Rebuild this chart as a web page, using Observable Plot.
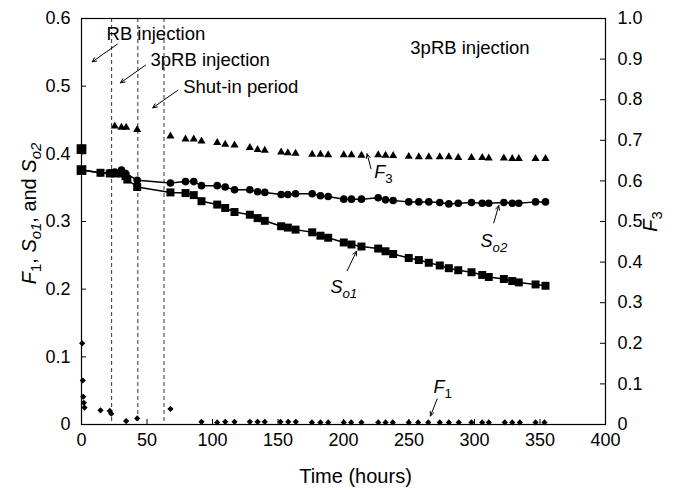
<!DOCTYPE html>
<html><head><meta charset="utf-8">
<script src="https://cdn.jsdelivr.net/npm/d3@7"></script>
<script src="https://cdn.jsdelivr.net/npm/@observablehq/plot@0.6"></script>
<style>body{margin:0;background:#fff}svg{display:block}</style>
</head><body><div id="chart"></div>
<script>
// ---- data ----
const xTicks = [0, 50, 100, 150, 200, 250, 300, 350, 400];
const yTicks = [0, 0.1, 0.2, 0.3, 0.4, 0.5, 0.6];
const f3Ticks = [0, 0.1, 0.2, 0.3, 0.4, 0.5, 0.6, 0.7, 0.8, 0.9, 1.0];
const F3_TO_LEFT = 0.6; // right axis (0..1) shares the frame with left axis (0..0.6)

const mainTime = [67.9,79.4,85.7,91.6,103.6,109.7,116.8,128.5,134.4,139.9,152.4,157.5,163.4,176.1,182.4,188.3,200.2,206.1,213.7,226.5,232.1,237.9,249.8,257.5,265.1,273.5,280.4,287.6,297.7,305.9,310.9,322.4,328.8,333.8,346.6,354.2];

const so1EarlyTime = [0, 14.5, 21.6, 25.4, 30.5, 33.6, 35.0, 42.5];
const so1EarlyValue = [0.376, 0.372, 0.371, 0.371, 0.371, 0.367, 0.362, 0.351];
const so1Value = [0.343,0.342,0.339,0.330,0.325,0.320,0.314,0.310,0.305,0.301,0.293,0.291,0.288,0.284,0.279,0.276,0.269,0.266,0.263,0.260,0.256,0.252,0.246,0.243,0.239,0.235,0.231,0.228,0.225,0.221,0.218,0.215,0.212,0.210,0.207,0.205];

const so2EarlyTime = [0, 14.5, 21.6, 25.4, 30.5, 33.6, 42.5];
const so2EarlyValue = [0.376, 0.372, 0.372, 0.373, 0.376, 0.371, 0.361];
const so2Value = [0.357,0.359,0.359,0.353,0.353,0.351,0.347,0.347,0.344,0.343,0.340,0.340,0.341,0.341,0.338,0.337,0.333,0.333,0.333,0.335,0.332,0.331,0.329,0.329,0.329,0.328,0.326,0.327,0.328,0.327,0.327,0.328,0.327,0.327,0.329,0.329];

const initialTime = [0];
const initialValue = [0.407];

const f3EarlyTime = [25.4, 30.5, 34.1, 42.5];
const f3EarlyValue = [0.735, 0.732, 0.732, 0.726];
const f3Value = [0.710,0.703,0.703,0.698,0.694,0.690,0.688,0.682,0.677,0.675,0.671,0.669,0.668,0.665,0.665,0.664,0.664,0.664,0.663,0.664,0.663,0.662,0.660,0.659,0.659,0.659,0.659,0.657,0.657,0.657,0.656,0.656,0.655,0.655,0.655,0.655];

const f1Time = [0.5,1.0,1.3,1.8,2.3,14.5,21.6,22.7,34.1,42.5,67.9,91.6,103.6,109.7,116.8,128.5,134.4,139.9,151.9,157.8,163.6,175.9,182.4,188.3,200.2,205.9,213.7,226.5,232.1,237.6,249.8,257.0,264.7,273.5,280.4,288.0,297.7,305.9,310.9,323.1,328.8,334.6,346.6,353.4];
const f1Value = [0.120,0.065,0.041,0.032,0.025,0.021,0.020,0.016,0.005,0.009,0.023,0.004,0.003,0.004,0.004,0.004,0.004,0.004,0.004,0.004,0.004,0.003,0.003,0.003,0.003,0.003,0.003,0.003,0.003,0.003,0.003,0.003,0.003,0.003,0.003,0.003,0.003,0.003,0.003,0.003,0.003,0.003,0.003,0.003];

const eventTime = [23, 43, 63];

const noteText = ["RB injection", "3pRB injection", "Shut-in period", "3pRB injection"];
const noteX = [19.1, 52.7, 77.6, 251];
const noteY = [0.577, 0.539, 0.499, 0.557];

const arrowX1 = [27.3, 48.9, 73.5, 221.0, 202.8, 314.7, 271.5];
const arrowY1 = [0.562, 0.531, 0.494, 0.378, 0.227, 0.298, 0.0377];
const arrowX2 = [8.2, 29.8, 54.4, 218.0, 209.9, 318.5, 266.4];
const arrowY2 = [0.536, 0.505, 0.468, 0.400, 0.256, 0.3235, 0.0126];

const seriesLabel = ["F3", "So1", "So2", "F1"];
const seriesLabelX = [223.5, 190.0, 304.6, 268.7];
const seriesLabelY = [0.373, 0.203, 0.271, 0.055];

// tick lengths expressed in data units (about 5 px)
const TICK_X = 3.8, TICK_Y = 0.0075;

// ---- tables ----
const so1 = so1EarlyTime.map((t, i) => ({t, v: so1EarlyValue[i]}))
  .concat(mainTime.map((t, i) => ({t, v: so1Value[i]})));
const so2 = so2EarlyTime.map((t, i) => ({t, v: so2EarlyValue[i]}))
  .concat(mainTime.map((t, i) => ({t, v: so2Value[i]})));
const init = initialTime.map((t, i) => ({t, v: initialValue[i]}));
const f3 = f3EarlyTime.map((t, i) => ({t, v: f3EarlyValue[i]}))
  .concat(mainTime.map((t, i) => ({t, v: f3Value[i]})));
const f1 = f1Time.map((t, i) => ({t, v: f1Value[i]}));
const notes = noteText.map((s, i) => ({s, x: noteX[i], y: noteY[i]}));
const arrows = arrowX1.map((x1, i) => ({x1, y1: arrowY1[i], x2: arrowX2[i], y2: arrowY2[i]}));
const labels = seriesLabel.map((s, i) => ({s, x: seriesLabelX[i], y: seriesLabelY[i]}));
const rightTicks = f3Ticks.map(d => d * F3_TO_LEFT);

const fmt = d => (Math.abs(d) < 1e-9 ? "0" : d.toFixed(1));
const font = "'Liberation Sans', Arial, Helvetica, sans-serif";

const plot = Plot.plot({
  width: 673, height: 491,
  marginLeft: 81, marginRight: 68, marginTop: 18, marginBottom: 67,
  style: {fontFamily: font, fontSize: "18px", background: "#fff", color: "#000", overflow: "visible"},
  x: {domain: [0, 400], axis: null},
  y: {domain: [0, 0.6], axis: null},
  marks: [
    Plot.ruleX(eventTime, {x: d => d, stroke: "#333", strokeWidth: 1, strokeDasharray: "4,3"}),
    Plot.line(so1, {x: "t", y: "v", stroke: "black", strokeWidth: 1.5}),
    Plot.line(so2, {x: "t", y: "v", stroke: "black", strokeWidth: 1.5}),
    Plot.dot(so2.slice(1), {x: "t", y: "v", r: 3.8, fill: "black", symbol: "circle"}),
    Plot.dot(so1.slice(1), {x: "t", y: "v", r: 4.5, fill: "black", symbol: "square"}),
    Plot.dot(so1.slice(0, 1).concat(init), {x: "t", y: "v", r: 5.5, fill: "black", symbol: "square"}),
    Plot.dot(f3, {x: "t", y: d => d.v * F3_TO_LEFT, r: 3.0, fill: "black", symbol: "triangle"}),
    Plot.dot(f1, {x: "t", y: "v", r: 2.8, fill: "black", symbol: "diamond2"}),
    Plot.arrow(arrows, {x1: "x1", y1: "y1", x2: "x2", y2: "y2", stroke: "black", strokeWidth: 1, headLength: 7, headAngle: 50}),
    Plot.text(notes, {x: "x", y: "y", text: "s", textAnchor: "start", lineAnchor: "middle", fontSize: 18.5}),
    Plot.text(labels, {x: "x", y: "y", text: "s", textAnchor: "start", lineAnchor: "middle", fontSize: 18}),
    // axes (inward ticks)
    Plot.ruleX(xTicks.slice(1, -1), {x: d => d, y1: 0, y2: TICK_Y, stroke: "black"}),
    Plot.ruleY(yTicks.slice(1, -1), {y: d => d, x1: 0, x2: TICK_X, stroke: "black"}),
    Plot.ruleY(rightTicks.slice(1, -1), {y: d => d, x1: 400 - TICK_X, x2: 400, stroke: "black"}),
    Plot.text(xTicks, {x: d => d, frameAnchor: "bottom", text: d => String(d), dy: 9, lineAnchor: "top", fontSize: 18}),
    Plot.text(yTicks, {y: d => d, frameAnchor: "left", text: fmt, dx: -11, textAnchor: "end", lineAnchor: "middle", fontSize: 18}),
    Plot.text(rightTicks, {y: d => d, frameAnchor: "right", text: d => fmt(d / F3_TO_LEFT), dx: 12, textAnchor: "start", lineAnchor: "middle", fontSize: 18}),
    Plot.frame({stroke: "black", strokeWidth: 1.2}),
    Plot.text(["F1, So1, and So2"], {frameAnchor: "left", text: d => d, rotate: -90, dx: -52, dy: -8, fontSize: 20, textAnchor: "middle", lineAnchor: "middle"}),
    Plot.text(["F3"], {frameAnchor: "right", text: d => d, rotate: -90, dx: 45, fontSize: 20, textAnchor: "middle", lineAnchor: "middle"}),
    Plot.text(["Time (hours)"], {frameAnchor: "bottom", text: d => d, dx: 12, dy: 52, fontSize: 20, lineAnchor: "middle"})
  ]
});

// rich text: italic symbols with subscripts (no relative dy, so anchoring stays intact)
const NS = "http://www.w3.org/2000/svg";
const rich = {
  "F1, So1, and So2": [["F", 1, 0], ["1", 0, 1], [", ", 0, 0], ["S", 1, 0], ["o1", 1, 1], [", and ", 0, 0], ["S", 1, 0], ["o2", 1, 1]],
  "F3": [["F", 1, 0], ["3", 0, 1]],
  "So1": [["S", 1, 0], ["o1", 1, 1]],
  "So2": [["S", 1, 0], ["o2", 1, 1]],
  "F1": [["F", 1, 0], ["1", 0, 1]]
};
plot.querySelectorAll("text").forEach(t => {
  const parts = rich[t.textContent];
  if (!parts) return;
  t.textContent = "";
  for (const [s, it, sub] of parts) {
    const ts = document.createElementNS(NS, "tspan");
    ts.textContent = s;
    if (it) ts.setAttribute("font-style", "italic");
    if (sub) { ts.setAttribute("font-size", "0.74em"); ts.setAttribute("baseline-shift", "-5"); }
    t.appendChild(ts);
  }
});

document.getElementById("chart").appendChild(plot);
</script>
</body></html>
